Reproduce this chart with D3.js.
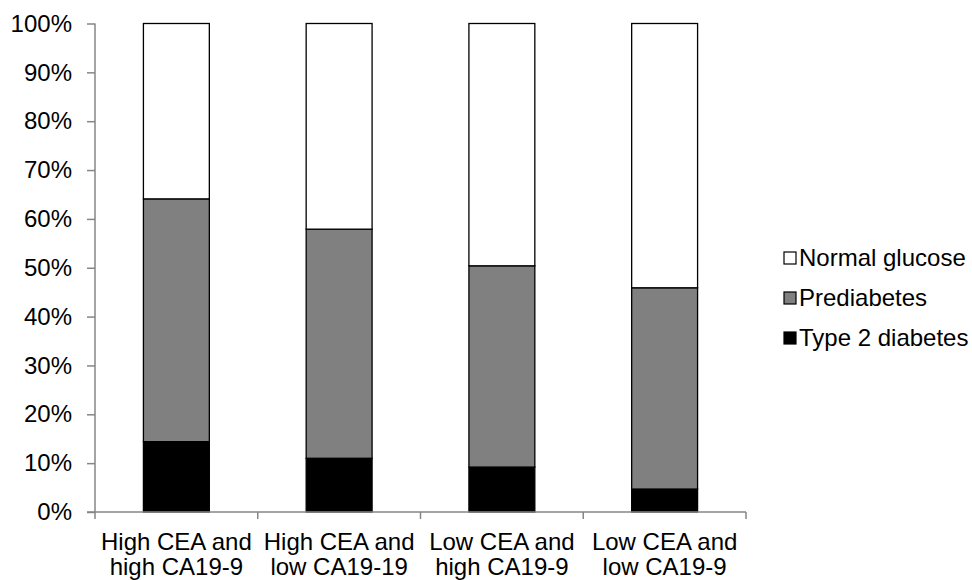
<!DOCTYPE html>
<html><head><meta charset="utf-8">
<script src="https://cdn.jsdelivr.net/npm/d3@7"></script>
<style>body{margin:0;background:#fff}svg text{font-family:"Liberation Sans",Arial,sans-serif;fill:#000}</style>
</head><body><svg id="c" width="972" height="580"></svg>
<script>
const categories = [["High CEA and","high CA19-9"],["High CEA and","low CA19-19"],["Low CEA and","high CA19-9"],["Low CEA and","low CA19-9"]];
const type2 = [14.4, 11.0, 9.2, 4.7];
const prediabetes = [49.7, 46.9, 41.2, 41.2];
const normal = [35.9, 42.1, 49.6, 54.1];
const seriesNames = ["Type 2 diabetes","Prediabetes","Normal glucose"];
const seriesColors = ["#000000","#808080","#ffffff"];
const yTicks = [0,10,20,30,40,50,60,70,80,90,100];

(function(){
const svg = d3.select("#c");
const pL = 95, pR = 746, pT = 23.5, pB = 512;
const FS = 24;
const x = d3.scaleBand().domain(d3.range(categories.length)).range([pL,pR]).paddingInner(0.595).paddingOuter(0.2975);
const y = d3.scaleLinear().domain([0,100]).range([pB,pT]);

const rows = categories.map((c,i)=>({i, t:type2[i], p:prediabetes[i], n:normal[i]}));
const stack = d3.stack().keys(["t","p","n"])(rows);

stack.forEach((s,k)=>{
  svg.append("g").selectAll("rect").data(s).enter().append("rect")
    .attr("x", d=>x(d.data.i)).attr("width", x.bandwidth())
    .attr("y", d=>y(d[1])).attr("height", d=>y(d[0])-y(d[1]))
    .attr("fill", seriesColors[k]).attr("stroke","#000").attr("stroke-width",1.3);
});

// y axis
const ya = svg.append("g").attr("transform",`translate(${pL},0)`)
  .call(d3.axisLeft(y).tickValues(yTicks).tickFormat(d=>d+"%").tickSize(8).tickPadding(15));
ya.select(".domain").attr("stroke","#868686").attr("stroke-width",1.5).attr("d",`M0,${pT}V${pB+7}`);
ya.selectAll(".tick line").attr("stroke","#868686").attr("stroke-width",1.5);
ya.selectAll(".tick text").attr("font-size",FS).style("font-family","Liberation Sans, Arial, sans-serif").attr("fill","#000");

// x axis
const xa = svg.append("g").attr("transform",`translate(0,${pB})`);
xa.append("line").attr("x1",pL-8).attr("x2",pR).attr("y1",0).attr("y2",0).attr("stroke","#868686").attr("stroke-width",1.5);
const bounds = d3.range(1, categories.length+1).map(i=>pL + i*(pR-pL)/categories.length);
xa.selectAll("line.tk").data(bounds).enter().append("line")
  .attr("x1",d=>d).attr("x2",d=>d).attr("y1",0).attr("y2",7).attr("stroke","#868686").attr("stroke-width",1.5);
categories.forEach((c,i)=>{
  const t = xa.append("text").attr("text-anchor","middle").attr("font-size",FS)
    .attr("x", x(i)+x.bandwidth()/2);
  c.forEach((line,j)=>t.append("tspan").attr("x", x(i)+x.bandwidth()/2).attr("y", 38+j*25).text(line));
});

// legend
const legOrder = [2,1,0];
const lg = svg.append("g");
legOrder.forEach((k,j)=>{
  const yy = 258 + j*40;
  lg.append("rect").attr("x",784).attr("y",yy-6).attr("width",12).attr("height",12)
    .attr("fill",seriesColors[k]).attr("stroke","#000").attr("stroke-width",1.2);
  lg.append("text").attr("x",799).attr("y",yy+8).attr("font-size",FS).text(seriesNames[k]);
});
})();
</script></body></html>
